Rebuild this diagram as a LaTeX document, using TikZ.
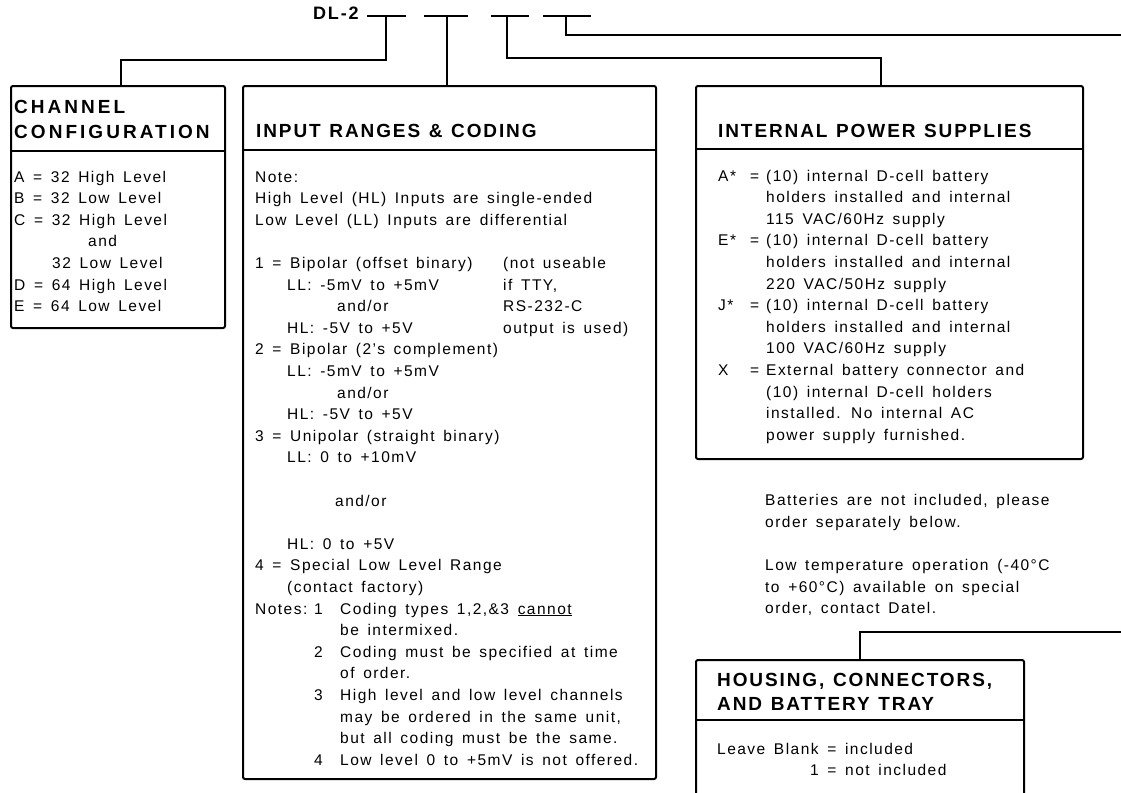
\documentclass[tikz,border=0pt]{standalone}
\usepackage{fontspec}
\setmainfont{Liberation Sans}
\newfontfamily\bdfont{Liberation Sans}[LetterSpace=9.5, WordSpace=1.5]
\newfontfamily\hdfont{Liberation Sans}[LetterSpace=10, WordSpace=1.2]
\newfontfamily\hdwfont{Liberation Sans}[LetterSpace=16]
\usetikzlibrary{positioning}

\begin{document}
\begin{tikzpicture}[x=1pt, y=-1pt,
  bx/.style={draw, line width=2pt, rounded corners=2pt, anchor=north west, inner sep=0pt},
  ln/.style={line width=2pt},
  hd/.style={anchor=base west, inner sep=0pt, font=\hdfont\bfseries\fontsize{19}{24}\selectfont},
  hdw/.style={anchor=base west, inner sep=0pt, font=\hdwfont\bfseries\fontsize{19}{24}\selectfont},
  bd/.style={anchor=base west, inner sep=0pt, font=\bdfont\fontsize{15.5}{21.6}\selectfont}]
\path[use as bounding box, clip] (0,0) rectangle (1121,792);

% order code and its slots
\node[hd, font=\hdfont\bfseries\fontsize{18}{22}\selectfont] (dl) at (313,20) {DL-2};
\foreach \s/\x/\xa/\xb in {s1/386/367/406, s2/447/424/468, s3/507/491/529, s4/566/543/591} {
  \coordinate (\s) at (\x,16);
  \draw[ln] (\xa,16) -- (\xb,16);
}
\coordinate (e4) at (1121,35);
\coordinate (e5) at (1121,632);

% boxes
\node[bx, minimum width=214pt, minimum height=242pt] (cc) at (10,85) {};
\node[bx, minimum width=413pt, minimum height=693pt] (irc) at (242,85) {};
\node[bx, minimum width=387pt, minimum height=373pt] (ips) at (695,85) {};
\node[bx, minimum width=328pt, minimum height=200pt] (hcb) at (695,659) {};
\foreach \b/\d in {cc/66, irc/65, ips/64, hcb/61}
  \draw[ln] ([yshift=-\d pt]\b.north west) -- ([yshift=-\d pt]\b.north east);

% connectors
\draw[ln] (s1) -- ++(0,44) -| ([xshift=3pt]cc.north);
\draw[ln] (s2) -- (s2 |- irc.north);
\draw[ln] (s3) -- ++(0,42) -| ([xshift=-9pt]ips.north);
\draw[ln] (s4) |- (e4);
\draw[ln] (e5) -| (hcb.north);

% headers
\node[hdw] (cc-h1) at (14,113) {CHANNEL};
\node[hdw] (cc-h2) at (14,138) {CONFIGURATION};
\node[hd] (irc-h) at (256,137) {INPUT RANGES \& CODING};
\node[hd] (ips-h) at (718,137) {INTERNAL POWER SUPPLIES};
\node[hd] (hcb-h1) at (717,686) {HOUSING, CONNECTORS,};
\node[hd] (hcb-h2) at (717,710) {AND BATTERY TRAY};

% channel configuration
\foreach \x/\y/\t [count=\i] in {14/182/{A = 32 High Level}, 14/203.6/{B = 32 Low Level},
    14/225.2/{C = 32 High Level}, 88/246.8/and, 52/268.4/{32 Low Level},
    14/290/{D = 64 High Level}, 14/311.6/{E = 64 Low Level}}
  \node[bd] (cc-\i) at (\x,\y) {\t};

% input ranges and coding
\foreach \x/\y/\t [count=\i] in {255/182/Note:,
    255/203.6/{High Level (HL) Inputs are single-ended},
    255/225.2/{Low Level (LL) Inputs are differential},
    255/268.4/{1 = Bipolar (offset binary)}, 503/268.4/{(not useable},
    287/290/{LL: -5mV to +5mV}, 503/290/{if TTY,},
    337/311.6/{and/or}, 503/311.6/RS-232-C,
    287/333.2/{HL: -5V to +5V}, 503/333.2/{output is used)},
    255/354.8/{2 = Bipolar (2’s complement)},
    287/376.4/{LL: -5mV to +5mV}, 337/398/{and/or}, 287/419.6/{HL: -5V to +5V},
    255/441.2/{3 = Unipolar (straight binary)}, 287/462.8/{LL: 0 to +10mV},
    335/506/{and/or}, 287/549.2/{HL: 0 to +5V},
    255/570.8/{4 = Special Low Level Range}, 287/592.4/{(contact factory)},
    255/614/Notes:, 314/614/1, 340/614/{Coding types 1,2,\&3 \underline{cannot}},
    340/635.6/{be intermixed.},
    314/657.2/2, 340/657.2/{Coding must be specified at time}, 340/678.8/{of order.},
    314/700.4/3, 340/700.4/{High level and low level channels},
    340/722/{may be ordered in the same unit,}, 340/743.6/{but all coding must be the same.},
    314/765.2/4, 340/765.2/{Low level 0 to +5mV is not offered.}}
  \node[bd] (irc-\i) at (\x,\y) {\t};

% internal power supplies
\foreach \y/\l in {181/A*, 245.8/E*, 310.6/J*, 375.4/X} {
  \node[bd] at (718,\y) {\l};
  \node[bd] at (750,\y) {=};
}
\foreach \y/\t [count=\i] in {181/{(10) internal D-cell battery}, 202.6/{holders installed and internal},
    224.2/{115 VAC/60Hz supply}, 245.8/{(10) internal D-cell battery},
    267.4/{holders installed and internal}, 289/{220 VAC/50Hz supply},
    310.6/{(10) internal D-cell battery}, 332.2/{holders installed and internal},
    353.8/{100 VAC/60Hz supply}, 375.4/{External battery connector and},
    397/{(10) internal D-cell holders}, 418.6/{installed. No internal AC},
    440.2/{power supply furnished.}}
  \node[bd] (ips-\i) at (766,\y) {\t};

% remarks
\foreach \y/\t [count=\i] in {505/{Batteries are not included, please}, 527/{order separately below.},
    570/{Low temperature operation (-40°C}, 592/{to +60°C) available on special},
    613/{order, contact Datel.}}
  \node[bd] (rm-\i) at (765,\y) {\t};

% housing, connectors and battery tray
\node[bd] (hcb-1) at (717,754) {Leave Blank = included};
\node[bd] (hcb-2) at (810,775) {1 = not included};
\end{tikzpicture}
\end{document}
